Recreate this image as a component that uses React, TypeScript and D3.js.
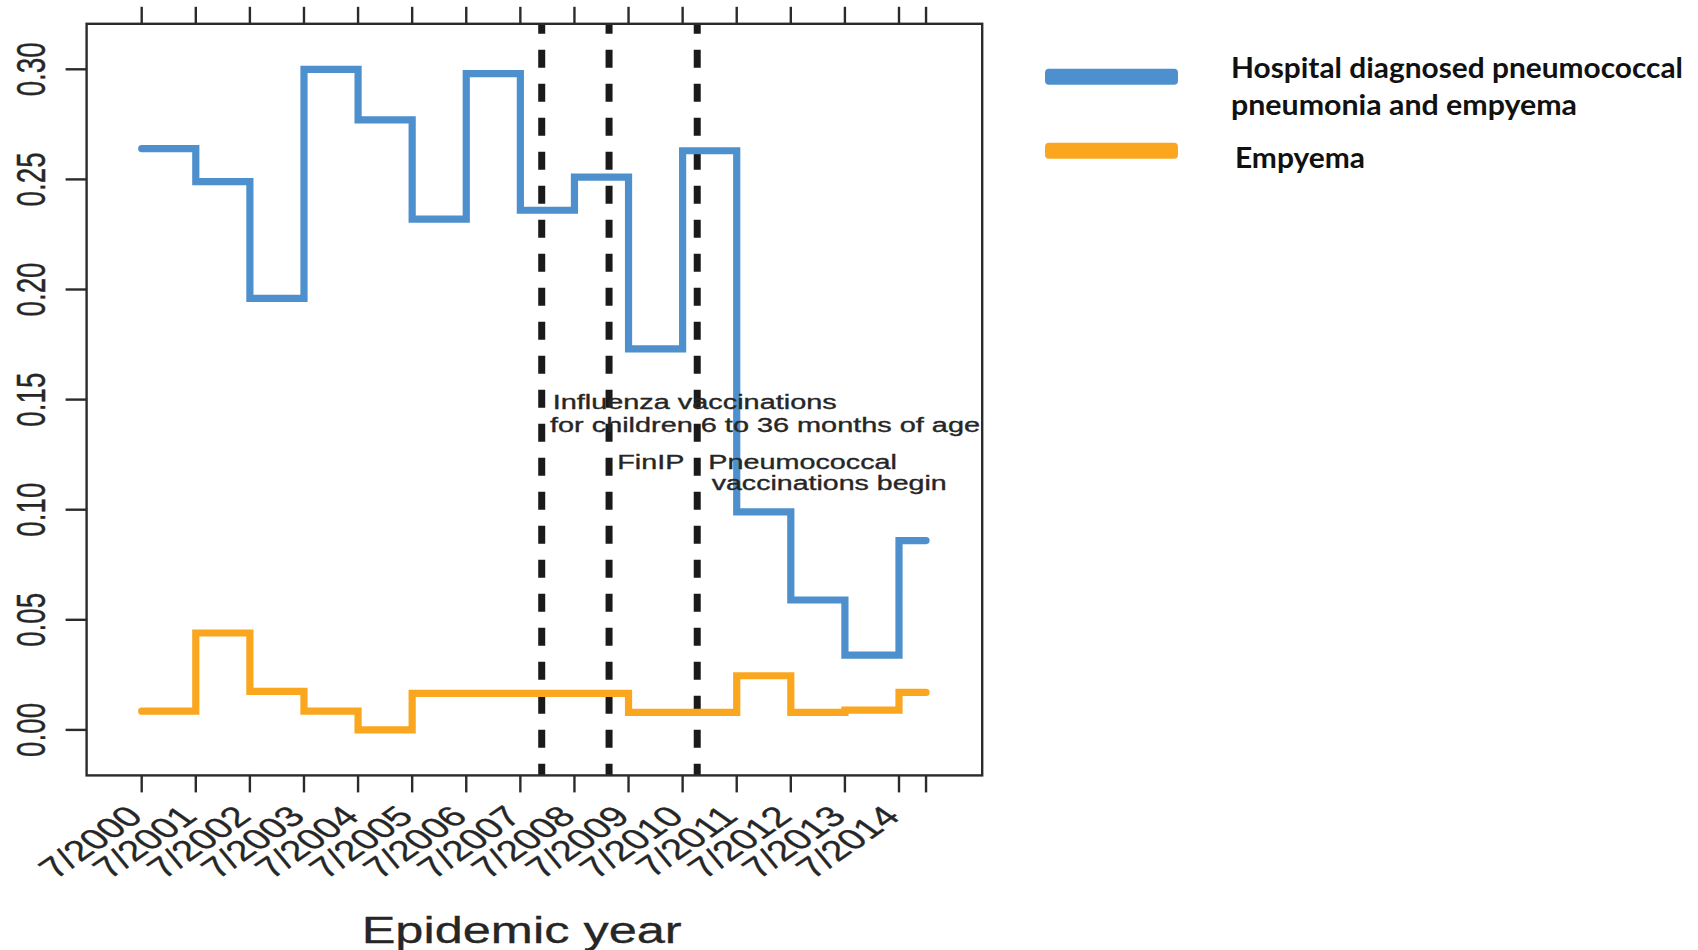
import React from "react";
import * as d3 from "d3";

// ---- data ----
const yearTicks = [2000.5, 2001.5, 2002.5, 2003.5, 2004.5, 2005.5, 2006.5, 2007.5, 2008.5, 2009.5, 2010.5, 2011.5, 2012.5, 2013.5, 2014.5];
const tickLabels = ["7/2000", "7/2001", "7/2002", "7/2003", "7/2004", "7/2005", "7/2006", "7/2007", "7/2008", "7/2009", "7/2010", "7/2011", "7/2012", "7/2013", "7/2014"];
const extraTick = 2015.0;
const seriesEnd = 2015.0;
const pneumonia = [0.264, 0.249, 0.196, 0.300, 0.277, 0.232, 0.298, 0.236, 0.251, 0.173, 0.263, 0.099, 0.059, 0.034, 0.086];
const empyema = [0.0085, 0.044, 0.0175, 0.0085, 0.0, 0.0166, 0.0166, 0.0166, 0.0166, 0.008, 0.008, 0.0246, 0.008, 0.009, 0.017];
const yTicks = [0.0, 0.05, 0.1, 0.15, 0.2, 0.25, 0.3];
const events = [2007.895, 2009.14, 2010.77];
const legendLabels = [["Hospital diagnosed pneumococcal", "pneumonia and empyema"], ["Empyema"]];

const BLUE = "#4d90cd";
const ORANGE = "#fba61f";
const AX = "#2b2b2b";
const TXT = "#262626";
const STRETCH = 1.44;

export default function App() {
  const left = 86.6, right = 982.2, top = 23.8, bottom = 775.4;
  const x = d3.scaleLinear().domain([2000.5, 2014.5]).range([141.7, 899]);
  const y = d3.scaleLinear().domain([0, 0.3]).range([729.9, 69.3]);

  const line = d3
    .line<[number, number]>()
    .x((d) => x(d[0]))
    .y((d) => y(d[1]))
    .curve(d3.curveStepAfter);

  const pts = (vals: number[]): [number, number][] => {
    const p: [number, number][] = vals.map((v, i) => [yearTicks[i], v]);
    p.push([seriesEnd, vals[vals.length - 1]]);
    return p;
  };

  const allTicks = [...yearTicks, extraTick];
  const font = "'Liberation Sans', Arial, Helvetica, sans-serif";

  return (
    <svg width={1698} height={950} style={{ position: "absolute", left: 0, top: 0, background: "#fff" }}>
      <rect x={0} y={0} width={1698} height={950} fill="#fff" />
      {/* event lines */}
      {events.map((e, i) => (
        <line key={"ev" + i} x1={x(e)} x2={x(e)} y1={top} y2={bottom} stroke="#1a1a1a" strokeWidth={7} strokeDasharray="18 16" strokeDashoffset={8} />
      ))}
      {/* series */}
      <path d={line(pts(pneumonia)) || ""} fill="none" stroke={BLUE} strokeWidth={7.2} strokeLinecap="round" strokeLinejoin="miter" />
      <path d={line(pts(empyema)) || ""} fill="none" stroke={ORANGE} strokeWidth={7.2} strokeLinecap="round" strokeLinejoin="miter" />

      {/* annotations */}
      <g fontFamily={font} fontSize={20} fill={TXT} stroke={TXT} strokeWidth={0.35}>
        <text x={552.7} y={409} textLength={284} lengthAdjust="spacingAndGlyphs">Influenza vaccinations</text>
        <text x={550} y={431.5} textLength={430} lengthAdjust="spacingAndGlyphs">for children 6 to 36 months of age</text>
        <text x={617.3} y={469.3} textLength={67} lengthAdjust="spacingAndGlyphs">FinIP</text>
        <text x={708.3} y={469.3} textLength={188.7} lengthAdjust="spacingAndGlyphs">Pneumococcal</text>
        <text x={711.7} y={490} textLength={235} lengthAdjust="spacingAndGlyphs">vaccinations begin</text>
      </g>

      {/* box */}
      <rect x={left} y={top} width={right - left} height={bottom - top} fill="none" stroke={AX} strokeWidth={2.4} />

      {/* x ticks bottom and top */}
      {allTicks.map((t, i) => (
        <g key={"xt" + i}>
          <line x1={x(t)} x2={x(t)} y1={bottom} y2={bottom + 17} stroke={AX} strokeWidth={2.4} />
          <line x1={x(t)} x2={x(t)} y1={top} y2={top - 17} stroke={AX} strokeWidth={2.4} />
        </g>
      ))}
      {/* x tick labels */}
      <g fontFamily={font} fontSize={28.5} fill={TXT} stroke={TXT} strokeWidth={0.3}>
        {yearTicks.map((t, i) => (
          <text key={"xl" + i} textAnchor="end" transform={`translate(${x(t) + 3},818) scale(${STRETCH},1) rotate(-45)`}>
            {tickLabels[i]}
          </text>
        ))}
      </g>

      {/* y ticks */}
      {yTicks.map((v, i) => (
        <line key={"yt" + i} x1={left - 21} x2={left} y1={y(v)} y2={y(v)} stroke={AX} strokeWidth={2.4} />
      ))}
      <g fontFamily={font} fontSize={27.8} fill={TXT} stroke={TXT} strokeWidth={0.3}>
        {yTicks.map((v, i) => (
          <text key={"yl" + i} textAnchor="middle" transform={`translate(45,${y(v)}) rotate(-90) scale(1,${STRETCH})`}>
            {d3.format(".2f")(v)}
          </text>
        ))}
      </g>

      {/* axis title */}
      <text x={361.7} y={943} fontFamily={font} fontSize={37} fill={TXT} stroke={TXT} strokeWidth={0.3} textLength={320} lengthAdjust="spacingAndGlyphs">
        Epidemic year
      </text>

      {/* legend */}
      <rect x={1045} y={68.7} width={133} height={16} rx={4} fill={BLUE} />
      <rect x={1045} y={142.7} width={133} height={16} rx={4} fill={ORANGE} />
      <g fontFamily="Lato, 'Open Sans', sans-serif" fontWeight={700} fontSize={28.5} fill="#111">
        <text x={1231} y={78} textLength={452} lengthAdjust="spacingAndGlyphs">{legendLabels[0][0]}</text>
        <text x={1231} y={114.5} textLength={346} lengthAdjust="spacingAndGlyphs">{legendLabels[0][1]}</text>
        <text x={1235} y={168} textLength={130} lengthAdjust="spacingAndGlyphs">{legendLabels[1][0]}</text>
      </g>
    </svg>
  );
}
